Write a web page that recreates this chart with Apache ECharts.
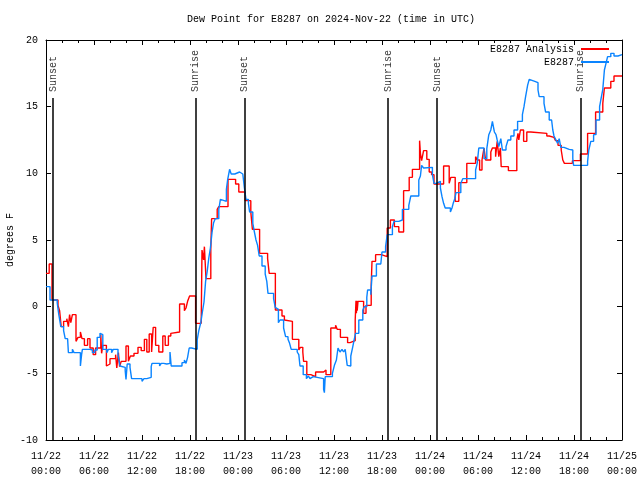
<!DOCTYPE html>
<html>
<head>
<meta charset="utf-8">
<script src="https://cdn.jsdelivr.net/npm/echarts@6/dist/echarts.min.js"></script>
<style>html,body{margin:0;padding:0;background:#fff}#c{width:640px;height:480px}</style>
</head>
<body>
<div id="c"></div>
<script>
// hours since 11/22 00:00 UTC, value (deg F) held until next point
const analysisSteps = [
 [0,2.5],[0.4,3.2],[0.75,0.5],[1.5,0.1],[1.7,-0.3],[1.9,-1.5],[2.2,-1.1],[2.6,-0.9],[2.8,-1.5],[2.95,-0.6],
 [3.1,-1.2],[3.3,-0.6],[3.75,-2.6],[4.0,-2.3],[4.3,-1.9],[4.5,-2.4],[4.8,-2.9],[5.2,-2.4],[5.5,-3.1],[5.9,-3.6],
 [6.2,-3.1],[6.85,-2.1],[6.95,-3.5],[7.1,-2.9],[7.55,-4.45],[7.8,-4.3],[8.0,-3.9],[8.7,-3.6],[8.85,-4.6],[9.05,-3.45],
 [9.2,-4.5],[9.4,-4.1],[10.0,-2.95],[10.3,-4.1],[10.55,-3.7],[11.0,-3.5],[11.5,-3.05],[11.9,-3.3],[12.3,-2.45],[12.6,-3.4],
 [12.9,-2.05],[13.2,-3.4],[13.4,-1.55],[13.7,-2.9],[14.1,-3.4],[14.6,-2.2],[14.9,-2.9],[15.3,-2.2],[15.6,-2.0],[15.8,-1.9],
 [16.7,0.2],[17.3,-0.3],[17.5,-0.1],[17.7,0.4],[17.95,0.8],[18.7,-1.25],[19.4,-1.1],[19.5,4.25],[19.7,3.5],[19.8,4.5],
 [20.0,2.1],[20.6,4.25],[20.7,6.6],[21.4,7.3],[21.6,7.5],[22.75,9.55],[23.7,9.2],[24.1,8.6],[24.9,7.95],[25.6,7.1],
 [25.8,5.8],[26.7,4.0],[27.7,3.6],[27.9,2.5],[28.67,-0.25],[29.5,-0.7],[29.8,-1.0],[29.9,-1.1],[30.8,-2.45],[31.6,-3.25],
 [31.8,-3.05],[32.1,-3.4],[32.2,-4.1],[32.6,-5.1],[33.1,-5.25],[33.7,-4.9],[34.7,-4.75],[35.0,-5.1],[35.6,-1.6],[36.2,-1.4],
 [36.4,-1.7],[36.8,-2.3],[37.7,-2.7],[38.0,-2.55],[38.65,-1.0],[38.75,0.45],[38.8,-0.5],[38.85,0.45],[38.9,-0.3],[39.0,0.4],
 [39.7,-0.5],[40.0,0.1],[40.65,1.6],[40.75,3.4],[41.2,3.9],[41.9,3.75],[42.65,5.9],[43.05,6.5],[43.55,6.0],[44.1,5.6],
 [44.7,8.7],[45.4,9.7],[45.8,10.3],[46.7,12.45],[46.8,11.5],[46.95,10.95],[47.2,11.7],[47.6,11.05],[47.9,10.1],[48.2,9.9],
 [48.5,9.2],[49.7,10.55],[50.4,9.25],[50.6,9.7],[51.15,7.9],[51.6,9.3],[52.6,10.75],[53.7,11.25],[53.9,11.0],[54.2,10.25],
 [54.5,11.0],[54.75,11.9],[54.95,11.0],[55.6,11.6],[55.8,11.9],[56.2,11.25],[56.4,12.4],[56.6,11.25],[56.8,11.9],[56.9,10.5],
 [57.8,10.2],[58.85,12.5],[59.0,13.0],[59.1,12.5],[59.3,13.25],[59.7,12.4],[60.1,13.1],[60.6,13.0],[62.6,12.8],[62.9,12.7],
 [63.5,12.8],[63.7,12.45],[64.0,12.1],[64.4,11.75],[64.6,11.0],[64.8,10.75],[65.8,10.95],[66.8,11.45],[67.7,13.0],[68.7,14.6],
 [69.6,15.25],[69.8,16.4],[70.6,16.9],[71.0,17.3],[72,17.3]
];
const stationSteps = [
 [0,1.5],[0.5,0.5],[1.4,0.3],[1.6,-0.6],[1.85,-1.5],[2.2,-1.8],[2.4,-2.4],[2.7,-2.5],[2.8,-3.45],[3.3,-3.2],
 [3.5,-3.45],[4.3,-4.45],[4.45,-3.6],[4.55,-3.2],[5.5,-3.25],[5.8,-3.45],[6.1,-3.25],[6.4,-2.3],[6.75,-2.0],[6.9,-2.1],
 [7.1,-3.2],[7.6,-3.45],[7.8,-3.2],[8.2,-3.45],[8.4,-3.2],[9.0,-3.6],[9.25,-4.45],[9.5,-4.55],[9.9,-4.8],[10.0,-5.45],
 [10.15,-4.3],[10.5,-4.55],[10.7,-5.4],[12.0,-5.6],[12.25,-5.4],[12.6,-5.3],[13.15,-4.5],[13.25,-4.25],[13.8,-4.4],[14.0,-4.25],
 [14.2,-4.45],[14.4,-4.25],[14.7,-4.3],[15.1,-4.25],[15.5,-3.4],[15.65,-4.45],[17.0,-4.2],[17.3,-4.0],[17.5,-4.25],[17.7,-3.8],
 [17.9,-3.1],[18.2,-3.2],[18.9,-2.5],[19.1,-1.8],[19.35,-1.2],[19.55,-0.4],[19.75,0.35],[19.95,1.9],[20.15,2.65],[20.35,3.65],
 [20.55,4.4],[20.75,5.55],[20.95,6.3],[21.15,6.6],[21.6,7.3],[21.8,8.05],[22.0,7.9],[22.55,8.8],[22.7,9.5],[22.95,10.3],
 [23.15,9.95],[23.6,10.1],[24.2,9.95],[24.6,10.1],[24.8,8.9],[25.0,8.05],[25.3,7.75],[25.45,7.1],[25.85,6.25],[26.05,5.6],
 [26.25,5.0],[26.45,4.6],[26.65,3.8],[27.0,3.05],[27.4,2.45],[27.6,1.9],[27.75,1.0],[28.45,0.6],[28.65,-0.05],[28.9,-0.2],
 [29.05,-1.2],[29.25,-1.0],[29.7,-1.6],[29.95,-2.25],[30.25,-2.45],[30.45,-2.75],[30.65,-3.2],[31.4,-3.4],[31.6,-3.6],[31.75,-4.45],
 [32.15,-5.1],[32.55,-5.4],[32.8,-5.2],[33.0,-5.4],[33.2,-5.25],[33.4,-5.4],[34.7,-6.2],[34.8,-6.45],[34.9,-5.25],[35.2,-5.4],
 [35.4,-5.25],[35.8,-5.0],[36.05,-4.4],[36.3,-4.0],[36.5,-3.1],[36.75,-3.4],[37.0,-3.2],[37.2,-3.4],[37.4,-3.2],[37.65,-4.4],
 [37.9,-4.45],[38.1,-3.7],[38.35,-3.0],[38.55,-2.4],[38.7,-2.0],[39.1,-1.0],[39.6,-0.25],[39.8,0.0],[40.1,0.7],[40.2,1.25],
 [40.6,0.9],[40.75,2.3],[41.3,3.2],[41.85,3.3],[42.0,4.1],[42.45,4.5],[42.65,5.4],[43.3,6.0],[43.5,6.4],[44.1,6.5],
 [44.55,7.3],[45.35,7.6],[45.6,8.3],[46.6,9.5],[46.8,9.8],[46.95,10.6],[47.2,10.4],[47.3,10.45],[48.3,9.9],[48.5,9.25],
 [48.8,9.4],[49.3,8.9],[49.5,8.25],[49.7,7.75],[49.9,7.4],[50.55,7.1],[50.75,7.4],[50.9,7.75],[51.1,8.1],[51.25,8.55],
 [51.85,9.25],[52.1,9.6],[53.7,10.25],[53.9,10.75],[54.1,11.9],[54.75,11.1],[55.1,11.85],[55.35,12.9],[55.6,13.25],[55.8,13.9],
 [56.05,13.1],[56.25,12.9],[56.4,12.5],[56.6,12.0],[56.85,12.6],[57.05,11.75],[57.5,12.0],[57.75,12.5],[58.1,12.8],[58.5,13.25],
 [58.95,13.9],[59.55,14.4],[59.75,15.0],[59.95,15.75],[60.2,16.6],[60.4,17.05],[60.6,16.9],[61.1,17.05],[61.3,16.8],[61.5,16.25],
 [61.65,15.75],[62.25,15.25],[62.45,14.6],[62.9,14.0],[63.2,13.9],[63.35,13.25],[63.5,12.8],[63.75,12.5],[63.95,12.25],[64.15,12.6],
 [64.35,11.95],[64.75,11.8],[65.4,11.75],[65.85,11.1],[65.95,10.6],[67.7,10.9],[67.85,11.75],[68.1,12.4],[68.45,12.9],[68.75,14.0],
 [69.2,15.0],[69.35,15.5],[69.6,16.3],[69.8,17.75],[70.0,18.25],[70.2,18.75],[70.6,19.0],[71.0,18.8],[71.5,18.9],[72,18.9]
];
const seriesNames = ['E8287 Analysis', 'E8287'];
const eventHours = [0.9, 18.7, 24.85, 42.75, 48.9, 66.8];
const eventNames = ['Sunset', 'Sunrise', 'Sunset', 'Sunrise', 'Sunset', 'Sunrise'];
const xTickLabels = ['11/22\n00:00','11/22\n06:00','11/22\n12:00','11/22\n18:00','11/23\n00:00','11/23\n06:00',
  '11/23\n12:00','11/23\n18:00','11/24\n00:00','11/24\n06:00','11/24\n12:00','11/24\n18:00','11/25\n00:00'];
const titleText = 'Dew Point for E8287 on 2024-Nov-22 (time in UTC)';
const yName = 'degrees F';

const FONT = 'Liberation Mono';
const black = '#000';
function xAxisDef(pos, labels) {
  return {
    type: 'value', min: 0, max: 72, interval: 6, position: pos,
    axisLine: { show: true, onZero: false, lineStyle: { color: black, width: 1 } },
    axisTick: { show: true, inside: true, length: 5, lineStyle: { color: black } },
    minorTick: { show: true, splitNumber: 3, length: 3, lineStyle: { color: black } },
    splitLine: { show: false }, minorSplitLine: { show: false },
    axisLabel: labels ? {
      show: true, margin: 9, fontFamily: FONT, fontSize: 10, color: black, lineHeight: 15,
      formatter: v => xTickLabels[Math.round(v / 6)] || ''
    } : { show: false }
  };
}
function yAxisDef(pos, labels) {
  const a = {
    type: 'value', min: -10, max: 20, interval: 5, position: pos,
    axisLine: { show: true, onZero: false, lineStyle: { color: black, width: 1 } },
    axisTick: { show: true, inside: true, length: 5, lineStyle: { color: black } },
    splitLine: { show: false },
    axisLabel: labels ? { show: true, margin: 8, fontFamily: FONT, fontSize: 10, color: black } : { show: false }
  };
  if (labels) {
    a.name = yName; a.nameLocation = 'middle'; a.nameGap = 31; a.nameRotate = 90;
    a.nameMoveOverlap = false;
    a.nameTextStyle = { fontFamily: FONT, fontSize: 10, color: black };
  }
  return a;
}

const chart = echarts.init(document.getElementById('c'), null, { renderer: 'canvas' });
chart.setOption({
  animation: false,
  backgroundColor: '#fff',
  title: { text: titleText, left: 187, top: 14, padding: 0,
    textStyle: { fontFamily: FONT, fontSize: 10, fontWeight: 'normal', color: black } },
  grid: { left: 46, right: 18, top: 40, bottom: 40, containLabel: false, outerBoundsMode: 'none' },
  legend: {
    data: seriesNames, orient: 'vertical', align: 'right', right: 31, top: 43, padding: 0,
    icon: 'rect', itemWidth: 28, itemHeight: 2, itemGap: 1,
    textStyle: { fontFamily: FONT, fontSize: 10, color: black, lineHeight: 12, padding: [0, 2, 0, 0] }
  },
  xAxis: [xAxisDef('bottom', true), xAxisDef('top', false)],
  yAxis: [yAxisDef('left', true), yAxisDef('right', false)],
  series: [
    {
      type: 'scatter', name: 'events', xAxisIndex: 0, yAxisIndex: 0, silent: true, z: 1,
      data: eventHours.map((h, i) => [h, 16.1, eventNames[i]]),
      symbolSize: 0,
      label: { show: true, position: [0, 0], rotate: 90, align: 'left', verticalAlign: 'middle',
        formatter: p => p.data[2], fontFamily: FONT, fontSize: 10, color: black },
      markLine: {
        silent: true, symbol: ['none', 'none'], animation: false,
        label: { show: false },
        lineStyle: { color: black, width: 1.5, type: 'solid' },
        data: eventHours.map(h => [{ coord: [h, -10] }, { coord: [h, 15.65] }])
      }
    },
    {
      type: 'line', name: seriesNames[0], data: analysisSteps, step: 'end',
      showSymbol: false, symbol: 'none', color: '#ff0000', z: 3,
      lineStyle: { color: '#ff0000', width: 1.4 }
    },
    {
      type: 'line', name: seriesNames[1], data: stationSteps, step: 'end',
      showSymbol: false, symbol: 'none', color: '#0a84ff', z: 4,
      lineStyle: { color: '#0a84ff', width: 1.4 }
    }
  ]
});
</script>
</body>
</html>
